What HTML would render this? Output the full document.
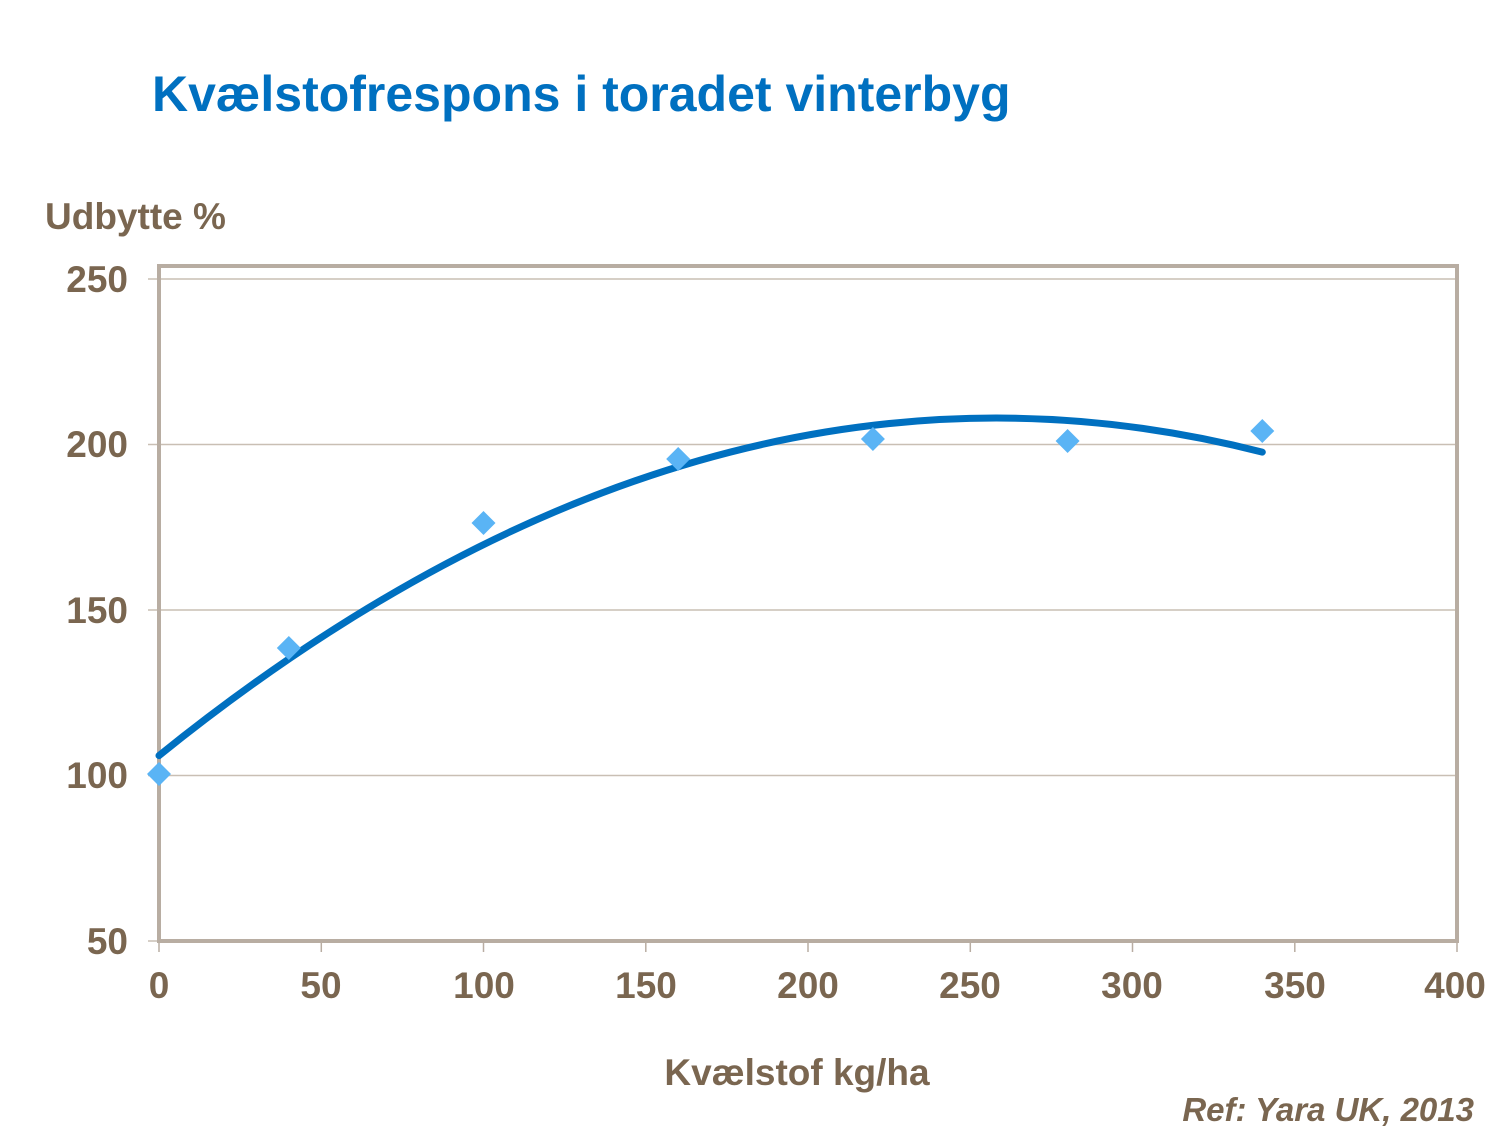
<!DOCTYPE html>
<html><head><meta charset="utf-8"><style>
html,body{margin:0;padding:0;background:#fff;}
</style></head><body>
<svg width="1500" height="1126" xmlns="http://www.w3.org/2000/svg" font-family="Liberation Sans, Arial, sans-serif">
<text x="152" y="111" font-size="50" font-weight="bold" fill="#0070C0">Kvælstofrespons i toradet vinterbyg</text>
<text x="45" y="229" font-size="37" font-weight="bold" fill="#7A6650">Udbytte %</text>
<g stroke="#C9BFB4" stroke-width="1.5">
<line x1="148" y1="279" x2="1457" y2="279"/>
<line x1="148" y1="444.5" x2="1457" y2="444.5"/>
<line x1="148" y1="610" x2="1457" y2="610"/>
<line x1="148" y1="775.5" x2="1457" y2="775.5"/>
<line x1="148" y1="941" x2="159" y2="941"/>
</g>
<g stroke="#B8ADA2" stroke-width="1.5">
<line x1="159" y1="941" x2="159" y2="952"/><line x1="321.3" y1="941" x2="321.3" y2="952"/>
<line x1="483.5" y1="941" x2="483.5" y2="952"/><line x1="645.8" y1="941" x2="645.8" y2="952"/>
<line x1="808" y1="941" x2="808" y2="952"/><line x1="970.3" y1="941" x2="970.3" y2="952"/>
<line x1="1132.5" y1="941" x2="1132.5" y2="952"/><line x1="1294.8" y1="941" x2="1294.8" y2="952"/>
<line x1="1457" y1="941" x2="1457" y2="952"/>
</g>
<rect x="159" y="266" width="1298" height="675" fill="none" stroke="#B8ADA2" stroke-width="4"/>
<g font-size="37" font-weight="bold" fill="#7A6650" text-anchor="end">
<text x="128" y="292">250</text><text x="128" y="457">200</text><text x="128" y="623">150</text>
<text x="128" y="788">100</text><text x="128" y="954">50</text>
</g>
<g font-size="37" font-weight="bold" fill="#7A6650" text-anchor="middle">
<text x="159" y="998">0</text><text x="321" y="998">50</text><text x="484" y="998">100</text>
<text x="646" y="998">150</text><text x="808" y="998">200</text><text x="970" y="998">250</text>
<text x="1132" y="998">300</text><text x="1295" y="998">350</text><text x="1455" y="998">400</text>
<text x="797" y="1085">Kvælstof kg/ha</text>
</g>
<text x="1474" y="1121" font-size="33" font-weight="bold" font-style="italic" fill="#7A6650" text-anchor="end">Ref: Yara UK, 2013</text>
<path fill="none" stroke="#0070C0" stroke-width="7" stroke-linecap="round" d="M159,755.6 Q710.4,310.8 1262.3,452.1"/>
<g fill="#5AB4F5">
<path d="M159,762 l12,12 l-12,12 l-12,-12z"/>
<path d="M288.8,636 l12,12 l-12,12 l-12,-12z"/>
<path d="M483.5,511 l12,12 l-12,12 l-12,-12z"/>
<path d="M678.2,447 l12,12 l-12,12 l-12,-12z"/>
<path d="M872.9,427 l12,12 l-12,12 l-12,-12z"/>
<path d="M1067.6,429 l12,12 l-12,12 l-12,-12z"/>
<path d="M1262.3,419 l12,12 l-12,12 l-12,-12z"/>
</g>
</svg>
</body></html>
